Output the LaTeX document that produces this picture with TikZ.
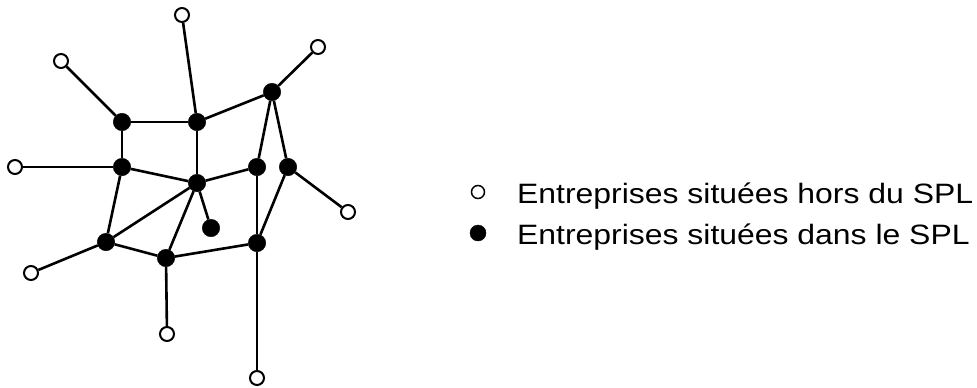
\documentclass[tikz,border=0pt]{standalone}
\usepackage{fontspec}
\setmainfont{Liberation Sans}
\begin{document}
\begin{tikzpicture}[x=1pt,y=-1pt,
  inside/.style={circle,fill=black,draw=black,inner sep=0pt,minimum size=17.5pt},
  outside/.style={circle,fill=white,draw=black,line width=2pt,inner sep=0pt,minimum size=14pt},
  link/.style={line width=2.6pt,black},
  legtext/.style={anchor=base west,inner sep=0pt,font=\fontsize{28}{32}\selectfont}]
\useasboundingbox (0,0) rectangle (977,388);
% inside nodes
\node[inside] (A) at (122,122) {};
\node[inside] (B) at (197,122) {};
\node[inside] (C) at (272,92) {};
\node[inside] (D) at (122,167) {};
\node[inside] (E) at (197,183) {};
\node[inside] (F) at (257,167) {};
\node[inside] (G) at (288,167) {};
\node[inside] (H) at (211,228) {};
\node[inside] (I) at (106,242) {};
\node[inside] (J) at (166,258) {};
\node[inside] (K) at (257,243) {};
% outside nodes
\node[outside] (o1) at (182,15) {};
\node[outside] (o2) at (61,61) {};
\node[outside] (o3) at (318,47) {};
\node[outside] (o4) at (15,167) {};
\node[outside] (o5) at (348,212) {};
\node[outside] (o6) at (31,273) {};
\node[outside] (o7) at (167,334) {};
\node[outside] (o8) at (257,378) {};
% links
\foreach \a/\b in {o1/B,o2/A,o3/C,A/B,B/C,A/D,B/E,C/F,C/G,D/o4,D/E,E/F,D/I,E/I,E/J,E/H,G/o5,G/K,F/K,I/J,J/K,I/o6,J/o7,K/o8}
  \draw[link] (\a) -- (\b);
% legend
\node[outside,minimum size=13pt,line width=1.5pt] (l1) at (478,192) {};
\node[inside,minimum size=16pt] (l2) at (478,233) {};
\node[legtext] (t1) at (517,203) {\scalebox{1.14}[1]{Entreprises situées hors du SPL}};
\node[legtext] (t2) at (517,244) {\scalebox{1.14}[1]{Entreprises situées dans le SPL}};
\end{tikzpicture}
\end{document}
